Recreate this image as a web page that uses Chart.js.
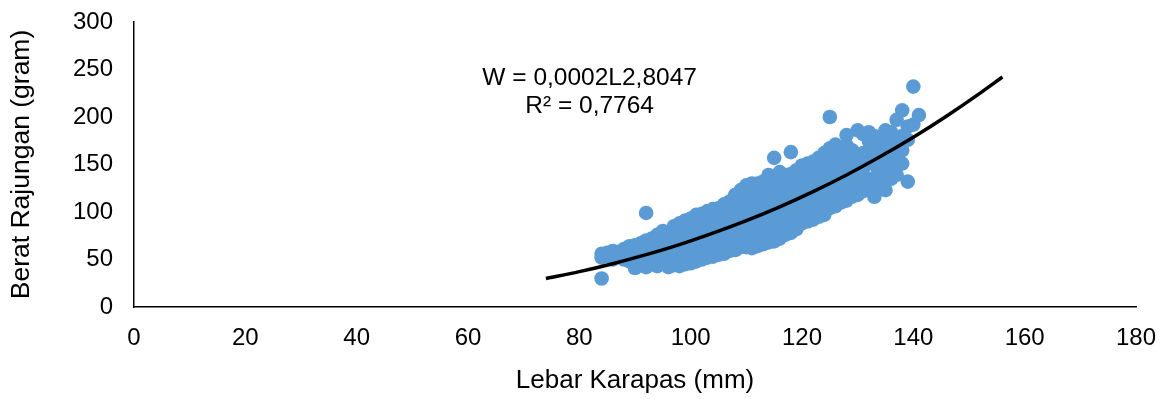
<!DOCTYPE html>
<html><head><meta charset="utf-8">
<script src="https://cdn.jsdelivr.net/npm/chart.js@4"></script>
<style>html,body{margin:0;padding:0;background:#fff}#wrap{width:1165px;height:399px}</style>
</head><body><div id="wrap"><canvas id="c" width="1165" height="399"></canvas></div>
<script>
// Lebar karapas (mm) per column and the berat (gram) values read at that width
const lebarKolom = [84,85,86,87,88,89,90,91,92,93,94,95,96,97,98,99,100,101,102,103,104,105,106,107,108,109,110,111,112,113,114,115,116,117,118,119,120,121,122,123,124,125,126,127,128,129,130,131,132,133,134,135,136,137,138,139,140,141];
const beratKolom = [
  [30,52,56],[54,57],[50,55,59],[53,58],[50,56,61],[48,54,60,64],
  [41,47,53,59,65],[44,50,57,63,67],[42,48,55,62,70,99],[45,52,59,66,72],
  [43,50,57,64,71,76],[46,53,60,67,74,80],[42,49,56,63,70,78],
  [44,51,58,65,72,80,85],[43,50,57,64,71,78,88],[45,52,59,66,73,80,86,91],
  [46,53,60,67,74,81,88,93],[48,55,62,69,76,83,90,97],[50,57,64,71,78,85,92,98],
  [52,59,66,73,80,87,94,101],[53,60,67,74,81,88,95,103],[55,62,69,76,83,90,97,104],
  [56,63,70,77,84,91,98,108],[59,66,73,80,87,94,101,111],[60,67,74,81,88,95,102,110,118],
  [63,70,77,84,91,98,105,113,123],[63,70,77,84,91,98,105,112,120,128],
  [62,70,78,86,94,102,110,118,126,130],[64,72,80,88,96,104,112,120,130],
  [66,74,82,90,98,106,114,122,132],[68,76,84,92,100,108,116,124,132,139],
  [69,78,86,94,102,110,118,126,134,157],[72,80,88,96,104,112,120,128,136,142],
  [76,84,92,100,108,116,124,132,139],[78,86,94,102,110,118,126,134,140,163],
  [82,90,98,106,114,122,130,138,144],[88,96,104,112,120,128,136,144,149],
  [90,98,106,114,122,130,138,146,151],[92,100,108,116,124,132,140,148,153],
  [95,103,111,119,127,135,143,151,157],[97,105,113,121,129,137,145,153,162],
  [104,112,120,128,136,144,152,160,167,200],[106,114,122,130,138,146,154,162,171],
  [110,118,126,134,142,150,158,163],[112,120,128,136,144,152,160,170,181],
  [116,124,132,140,148,156,165],[118,126,134,142,150,158,186],
  [122,130,138,146,154,162,182],[126,134,158,165,175,184],
  [116,128,136,150,170,180],[130,140,150,158,178],[123,142,155,168,186],
  [135,148,172,184],[139,160,176,197],[151,165,180,207],[132,176,190],
  [192,232],[202]
];
// Trend line
const trendLebar = [74,80,86,92,98,104,110,116,122,128,134,140,146,152,156];
const trendBerat = [30.0,37.2,45.6,55.1,65.7,77.7,90.9,105.5,121.5,139.0,158.1,178.7,201.1,225.1,242.1];
// Tick settings and texts
const xTicks = {min:0, max:180, step:20};
const yTicks = {min:0, max:300, step:50};
const eqLines = ['W = 0,0002L2,8047', 'R\u00B2 = 0,7764'];
const eqPos = {x:81.85, y:[240.3, 211.4]};

const points = [];
lebarKolom.forEach((L, i) => beratKolom[i].forEach(W => points.push({x:L, y:W})));
const trend = trendLebar.map((L, i) => ({x:L, y:trendBerat[i]}));

const FONT = '"Liberation Sans", Arial, sans-serif';

const eqPlugin = {
  id:'eq',
  afterDatasetsDraw(chart){
    const {ctx, scales:{x, y}} = chart;
    ctx.save();
    ctx.font = '24.5px ' + FONT;
    ctx.fillStyle = '#000';
    ctx.textAlign = 'center';
    ctx.textBaseline = 'middle';
    eqLines.forEach((t, i) => ctx.fillText(t, x.getPixelForValue(eqPos.x), y.getPixelForValue(eqPos.y[i])));
    ctx.restore();
  }
};

new Chart(document.getElementById('c'), {
  type:'scatter',
  data:{datasets:[
    {label:'trend', data:trend, showLine:true, borderColor:'#000', borderWidth:3.5, pointRadius:0, fill:false, cubicInterpolationMode:'monotone', order:0},
    {label:'data', data:points, backgroundColor:'#5B9BD5', borderWidth:0, pointRadius:7.3, order:1}
  ]},
  options:{
    responsive:false, animation:false, devicePixelRatio:1,
    layout:{padding:{top:22, right:29, left:0, bottom:0}},
    plugins:{legend:{display:false}, tooltip:{enabled:false}},
    scales:{
      x:{type:'linear', min:xTicks.min, max:xTicks.max,
        ticks:{stepSize:xTicks.step, color:'#000', font:{family:FONT, size:24}, padding:17},
        grid:{display:false, drawTicks:false},
        border:{display:true, color:'#000', width:1.5},
        title:{display:true, text:'Lebar Karapas (mm)', color:'#000', font:{family:FONT, size:26}, padding:{top:0, bottom:3}},
        afterFit(s){ s.height = 92; s.paddingLeft = 0; s.paddingRight = 0; }
      },
      y:{type:'linear', min:yTicks.min, max:yTicks.max,
        ticks:{stepSize:yTicks.step, color:'#000', font:{family:FONT, size:24}, padding:21},
        grid:{display:false, drawTicks:false},
        border:{display:true, color:'#000', width:1.5},
        title:{display:true, text:'Berat Rajungan (gram)', color:'#000', font:{family:FONT, size:26.5}, padding:{top:6, bottom:0}},
        afterFit(s){ s.width = 134; s.paddingTop = 0; s.paddingBottom = 0; }
      }
    }
  },
  plugins:[eqPlugin]
});
</script>
</body></html>
